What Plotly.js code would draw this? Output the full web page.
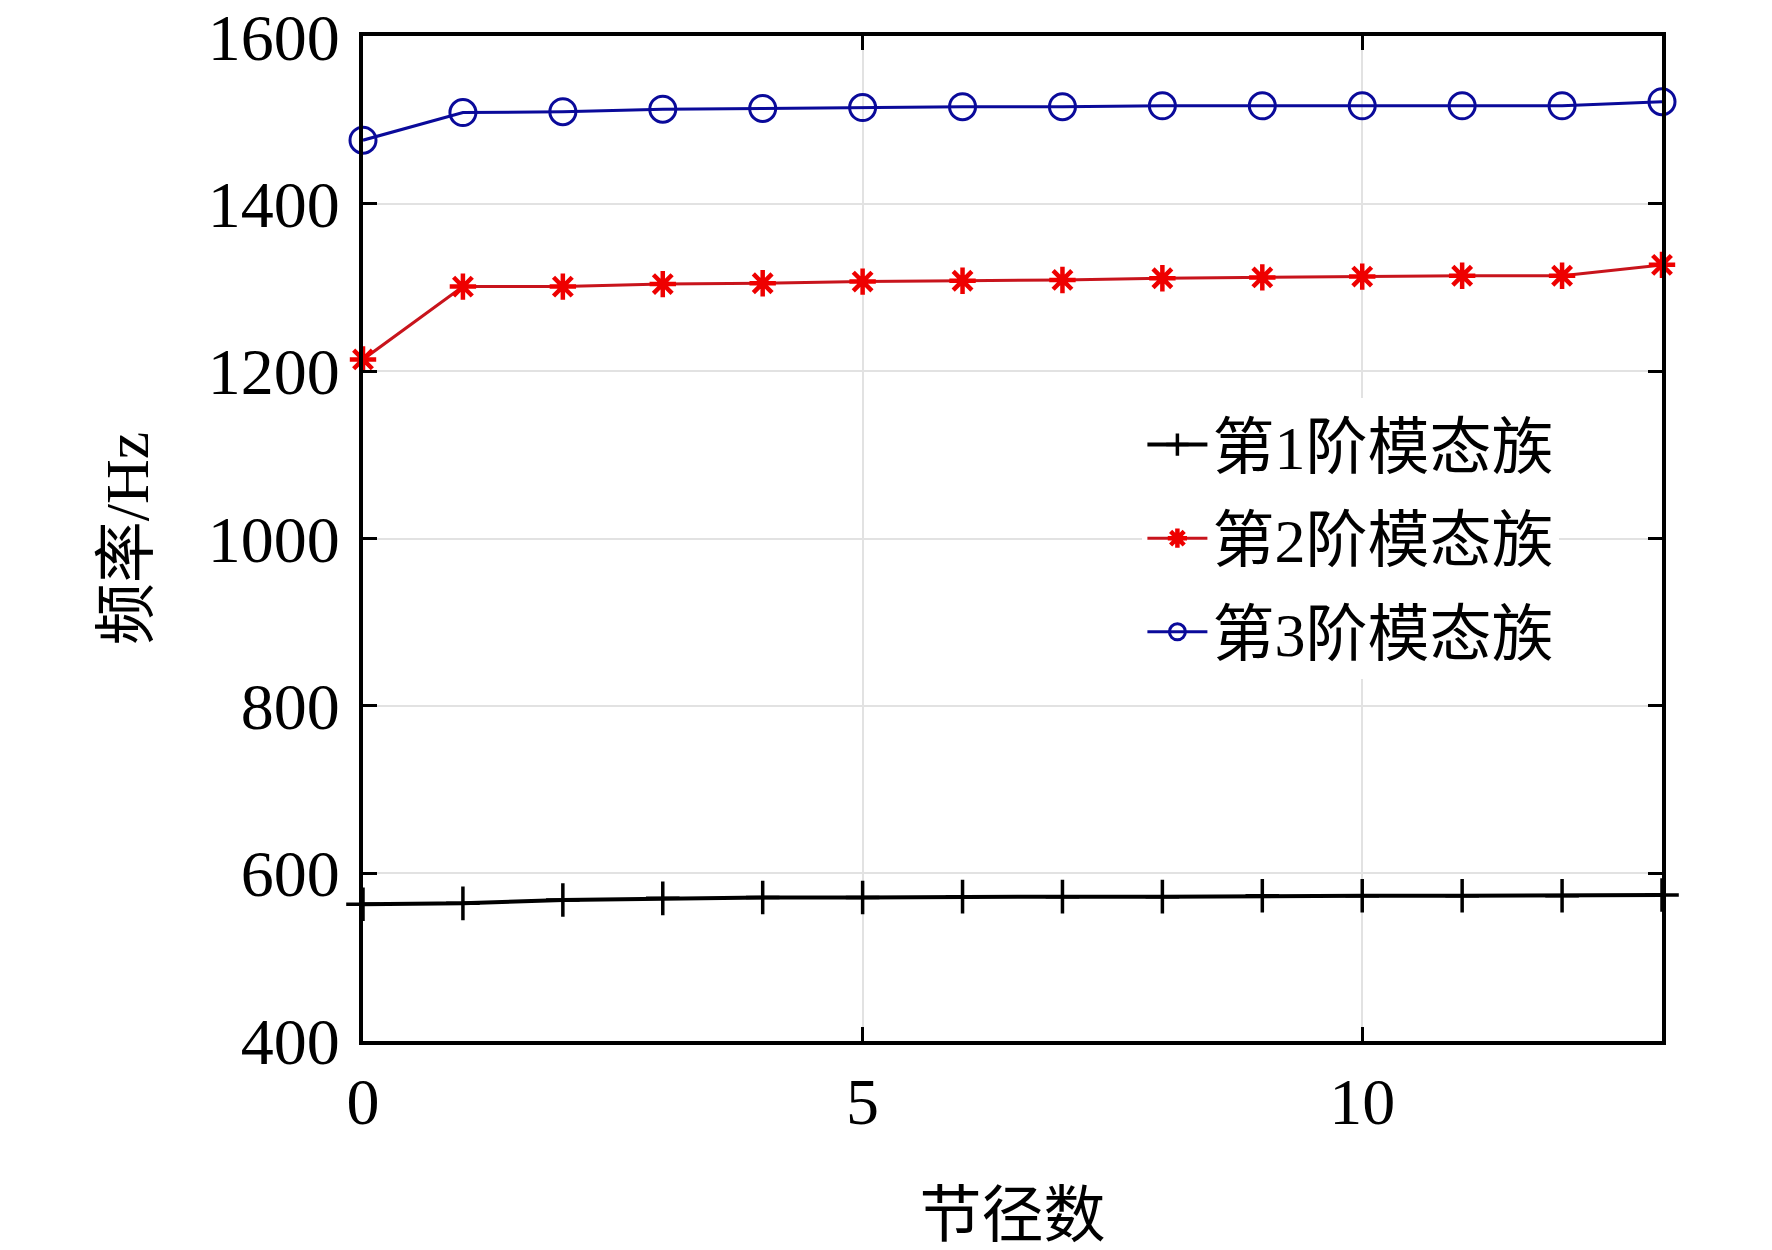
<!DOCTYPE html>
<html>
<head>
<meta charset="utf-8">
<script src="https://cdn.plot.ly/plotly-3.0.1.min.js"></script>
<style>
  html, body { margin: 0; padding: 0; background: white; }
  #graph { width: 1772px; height: 1250px; }
</style>
</head>
<body>
<div id="graph"></div>
<script>
var nodalDiameters = [0, 1, 2, 3, 4, 5, 6, 7, 8, 9, 10, 11, 12, 13];
var family1 = [563, 564, 568, 570, 571, 571, 572, 572, 572, 573, 573, 573, 573, 574];
var family2 = [1214, 1301, 1301, 1304, 1305, 1307, 1308, 1309, 1311, 1312, 1313, 1314, 1314, 1327];
var family3 = [1476, 1509, 1510, 1513, 1514, 1515, 1516, 1516, 1517, 1517, 1517, 1517, 1517, 1522];
var seriesNames = ['第1阶模态族', '第2阶模态族', '第3阶模态族'];
var yTicks = [400, 600, 800, 1000, 1200, 1400, 1600];
var xTicks = [0, 5, 10];

var fontFam = '"Liberation Serif", "Times New Roman", "Noto Sans CJK SC", serif';

var trace1 = {
  x: nodalDiameters,
  y: family1,
  name: seriesNames[0],
  legendgroup: 'g1',
  mode: 'lines+markers',
  line: { color: '#000000', width: 4 },
  marker: { symbol: 'cross-thin', size: 24, line: { color: '#000000', width: 3.5 } },
  cliponaxis: false
};
var trace2 = {
  x: nodalDiameters,
  y: family2,
  name: seriesNames[1],
  legendgroup: 'g2',
  mode: 'lines+markers',
  line: { color: '#c8141c', width: 3 },
  marker: { symbol: 'asterisk', size: 22, color: '#ee0000', line: { color: '#ee0000', width: 4.5 } },
  cliponaxis: false
};
var trace3 = {
  x: nodalDiameters,
  y: family3,
  name: seriesNames[2],
  legendgroup: 'g3',
  mode: 'lines+markers',
  line: { color: '#0a0a9a', width: 3 },
  marker: { symbol: 'circle-open', size: 26, color: '#0a0a9a', line: { color: '#0a0a9a', width: 3 } },
  cliponaxis: false
};

var layout = {
  width: 1772,
  height: 1250,
  margin: { l: 363, r: 110, t: 36, b: 209 },
  paper_bgcolor: 'white',
  plot_bgcolor: 'white',
  font: { family: fontFam, size: 66, color: '#000' },
  showlegend: true,
  legend: {
    x: 0.6, y: 0.64, xanchor: 'left', yanchor: 'top',
    bgcolor: 'white', borderwidth: 0,
    traceorder: 'grouped', tracegroupgap: 10,
    font: { family: fontFam, size: 62, color: '#000' },
    itemwidth: 60
  },
  xaxis: {
    range: [0, 13],
    tickvals: xTicks,
    ticks: 'inside', ticklen: 14, tickwidth: 3, tickcolor: '#000',
    showline: true, linecolor: '#000', linewidth: 4, mirror: 'ticks',
    showgrid: true, gridcolor: '#e2e2e2', gridwidth: 2,
    zeroline: false,
    ticklabelstandoff: 0,
    tickfont: { family: fontFam, size: 66 },
    title: { text: '节径数', standoff: 66, font: { family: fontFam, size: 62 } }
  },
  yaxis: {
    range: [399.5, 1600.5],
    tickvals: yTicks,
    ticks: 'inside', ticklen: 14, tickwidth: 3, tickcolor: '#000',
    showline: true, linecolor: '#000', linewidth: 4, mirror: 'ticks',
    showgrid: true, gridcolor: '#e2e2e2', gridwidth: 2,
    zeroline: false,
    ticklabelstandoff: 6,
    tickfont: { family: fontFam, size: 66 },
    title: { text: '频率/Hz', standoff: 40, font: { family: fontFam, size: 62 } }
  }
};

Plotly.newPlot('graph', [trace1, trace2, trace3], layout, { displayModeBar: false, staticPlot: true });
</script>
</body>
</html>
